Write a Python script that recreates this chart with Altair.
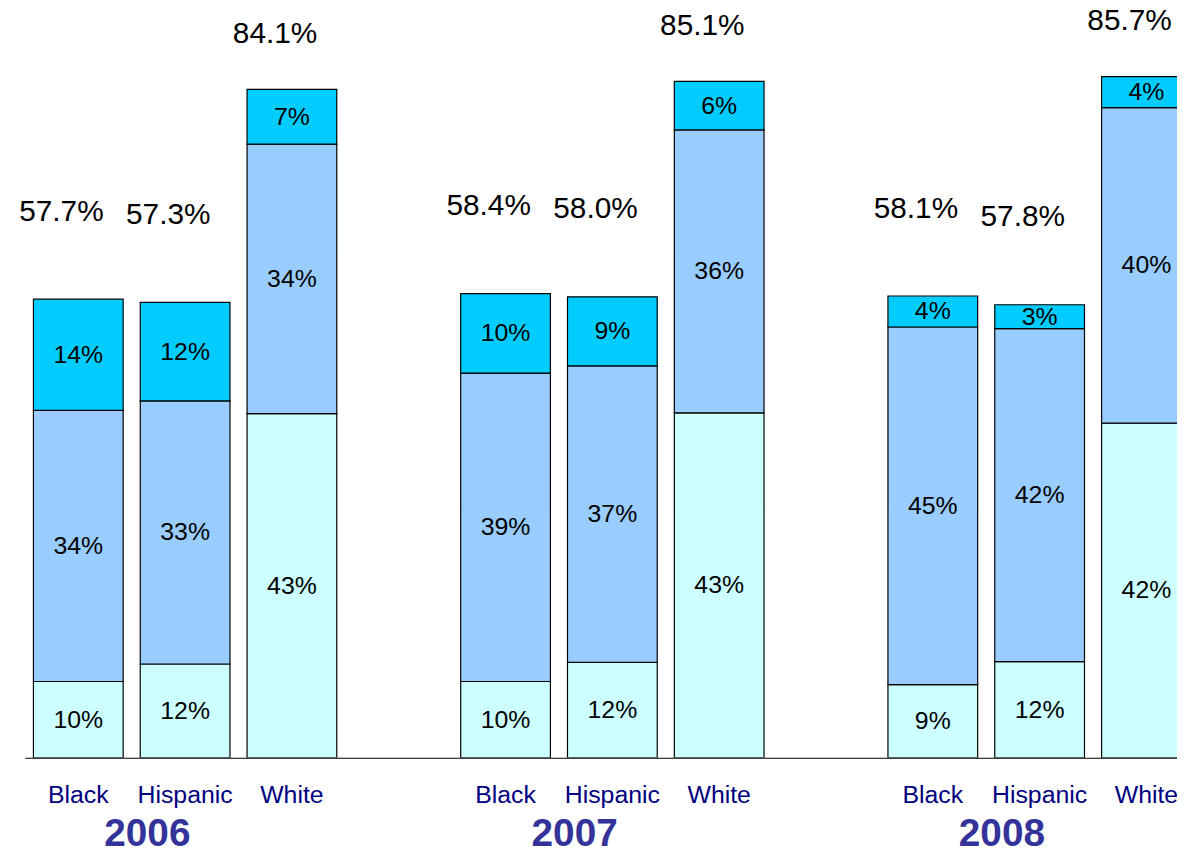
import altair as alt
import pandas as pd

years = ["2006", "2007", "2008"]
races = ["Black", "Hispanic", "White"]
segments = ["Bottom", "Middle", "Top"]
seg_colors = ["#CCFFFF", "#99CCFF", "#00CCFF"]

# order: 2006 Black, Hispanic, White, 2007 ..., 2008 ...
bottom = [9.6, 11.8, 43.3, 9.6, 12.0, 43.4, 9.2, 12.1, 42.1]
middle = [34.1, 33.1, 33.9, 38.8, 37.3, 35.6, 45.0, 41.9, 39.7]
top = [14.0, 12.4, 6.9, 10.0, 8.7, 6.1, 3.9, 3.0, 3.9]
totals = [57.7, 57.3, 84.1, 58.4, 58.0, 85.1, 58.1, 57.8, 85.7]

FONT = "Liberation Sans, Arial, sans-serif"

rows = []
tot_rows = []
i = 0
for yr in years:
    for rc in races:
        base = 0.0
        for seg, vals in zip(segments, [bottom, middle, top]):
            v = vals[i]
            rows.append({"year": yr, "race": rc, "segment": seg, "value": v,
                         "y0": base, "y1": base + v, "mid": base + v / 2,
                         "label": f"{v:.0f}%"})
            base += v
        tot_rows.append({"year": yr, "race": rc, "height": base,
                         "label": f"{totals[i]:.1f}%"})
        i += 1

df = pd.DataFrame(rows)
tdf = pd.DataFrame(tot_rows)

x_enc = alt.X(
    "year:N",
    scale=alt.Scale(domain=years, range=[0, 1183], paddingInner=0.25, paddingOuter=0),
    axis=alt.Axis(title=None, ticks=False, labelAngle=0, labelFont=FONT,
                  labelFontSize=39, labelFontWeight="bold", labelColor="#333399",
                  labelPadding=57, labelOffset=-38, domainColor="black",
                  domainWidth=1.2, grid=False),
)
xo_enc = alt.XOffset("race:N", scale=alt.Scale(domain=races, paddingInner=0.16, paddingOuter=0.08))
y_scale = alt.Scale(domain=[0, 93.6], nice=False, zero=True)

bars = alt.Chart(df).mark_bar(stroke="black", strokeWidth=1.2, clip=True).encode(
    x=x_enc,
    xOffset=xo_enc,
    y=alt.Y("y0:Q", scale=y_scale, axis=None),
    y2="y1:Q",
    color=alt.Color("segment:N", scale=alt.Scale(domain=segments, range=seg_colors), legend=None),
)

seg_text = alt.Chart(df).mark_text(font=FONT, fontSize=25, baseline="middle", color="black").encode(
    x=x_enc, xOffset=xo_enc,
    y=alt.Y("mid:Q", scale=y_scale, axis=None),
    text="label:N",
)

tot_white = alt.Chart(tdf).transform_filter(alt.datum.race == "White").mark_text(
    font=FONT, fontSize=30, baseline="middle", color="black", dy=-56, dx=-17
).encode(
    x=x_enc, xOffset=xo_enc,
    y=alt.Y("height:Q", scale=y_scale, axis=None),
    text="label:N",
)

tot_other = alt.Chart(tdf).transform_filter(alt.datum.race != "White").mark_text(
    font=FONT, fontSize=30, baseline="middle", color="black", dy=-88, dx=-17
).encode(
    x=x_enc, xOffset=xo_enc,
    y=alt.Y("height:Q", scale=y_scale, axis=None),
    text="label:N",
)

race_text = alt.Chart(tdf).mark_text(font=FONT, fontSize=25, baseline="middle", color="#000080").encode(
    x=x_enc, xOffset=xo_enc,
    y=alt.value(787),
    text="race:N",
)

chart = alt.layer(bars, seg_text, tot_white, tot_other, race_text).properties(
    width=1160,
    height=749,
    autosize=alt.AutoSizeParams(type="none"),
    padding={"left": 17, "top": 3, "right": 0, "bottom": 96},
).configure_view(stroke=None)

chart.save("out.html", embed_options={"renderer": "svg", "actions": False})
